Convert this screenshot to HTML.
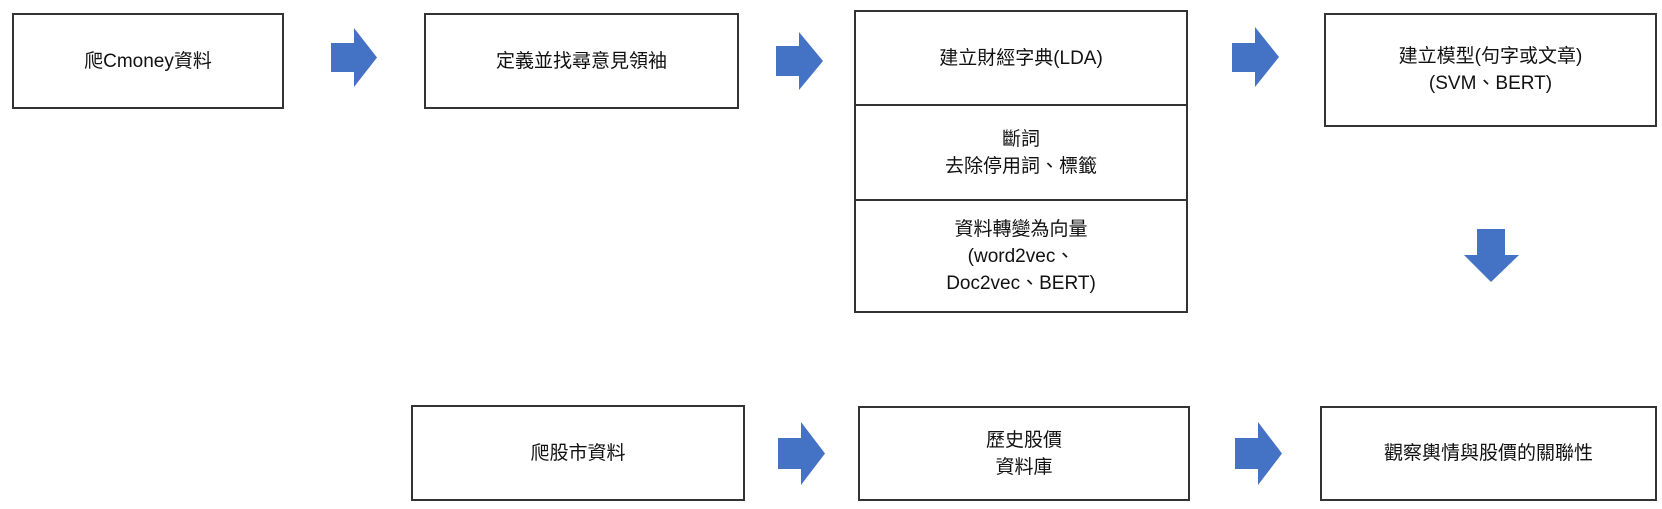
<!DOCTYPE html>
<html><head><meta charset="utf-8"><style>
body{margin:0;width:1662px;height:509px;background:#fff;position:relative;overflow:hidden;font-family:"Liberation Sans","Noto Sans CJK TC",sans-serif;color:#111}
.b{position:absolute;border:2px solid #333;box-sizing:border-box;display:flex;align-items:center;justify-content:center;text-align:center;font-size:19px;line-height:27px;background:#fff}
svg{position:absolute}
</style></head><body>
<div class="b" style="left:12px;top:13px;width:272px;height:96px">爬Cmoney資料</div>
<div class="b" style="left:424px;top:13px;width:315px;height:96px">定義並找尋意見領袖</div>
<div class="b" style="left:854px;top:10px;width:334px;height:96px">建立財經字典(LDA)</div>
<div class="b" style="left:854px;top:104px;width:334px;height:97px">斷詞<br>去除停用詞、標籤</div>
<div class="b" style="left:854px;top:199px;width:334px;height:114px">資料轉變為向量<br>(word2vec、<br>Doc2vec、BERT)</div>
<div class="b" style="left:1324px;top:13px;width:333px;height:114px">建立模型(句字或文章)<br>(SVM、BERT)</div>
<div class="b" style="left:411px;top:405px;width:334px;height:96px">爬股市資料</div>
<div class="b" style="left:858px;top:406px;width:332px;height:95px">歷史股價<br>資料庫</div>
<div class="b" style="left:1320px;top:406px;width:337px;height:95px">觀察輿情與股價的關聯性</div>
<svg width="1662" height="509" style="left:0;top:0">
<g fill="#4472C4">
<polygon points="331,43 354,43 354,28 377,57.5 354,87 354,72 331,72"/>
<polygon points="776,46 799,46 799,32 823,61 799,90 799,76 776,76"/>
<polygon points="1232,43 1255,43 1255,27 1279,57 1255,87 1255,72 1232,72"/>
<polygon points="1477,229 1505,229 1505,255 1519,255 1491,282 1464,255 1477,255"/>
<polygon points="778,438 801,438 801,422 825,453.5 801,485 801,469 778,469"/>
<polygon points="1235,438 1258,438 1258,422 1282,453.5 1258,485 1258,469 1235,469"/>
</g></svg>
</body></html>
